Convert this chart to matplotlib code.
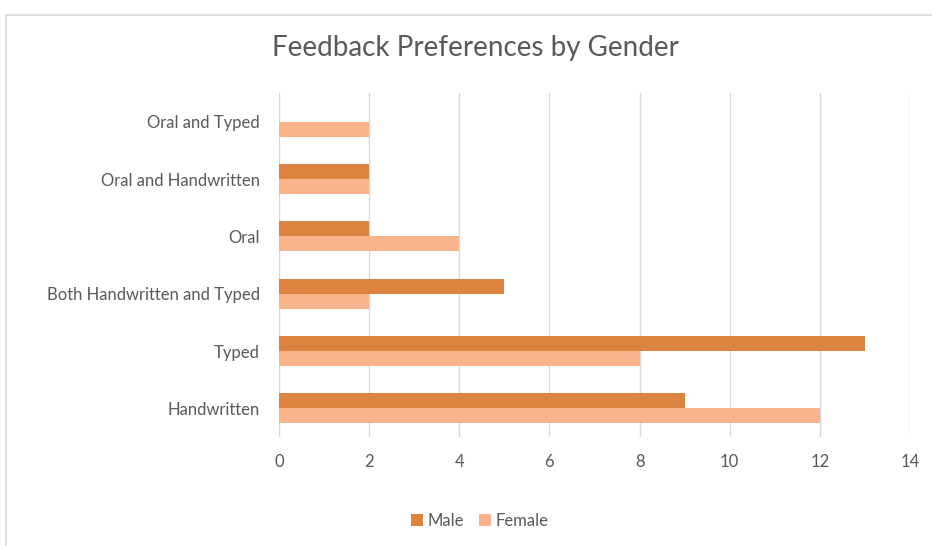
import numpy as np
import matplotlib.pyplot as plt
from matplotlib.lines import Line2D

categories = ["Handwritten", "Typed", "Both Handwritten and Typed", "Oral",
              "Oral and Handwritten", "Oral and Typed"]
male = [9, 13, 5, 2, 2, 0]
female = [12, 8, 2, 4, 2, 2]
x_ticks = [0, 2, 4, 6, 8, 10, 12, 14]

plt.rcParams['font.family'] = ['Lato', 'DejaVu Sans']
text_color = "#595959"

fig = plt.figure(figsize=(9.32, 5.46), dpi=100)
ax = fig.add_axes([279 / 932, 1 - 437 / 546, 631 / 932, 344 / 546])

y = np.arange(len(categories))
h = 0.26
ax.barh(y + h / 2, male, height=h, color="#dc843f", label="Male")
ax.barh(y - h / 2, female, height=h, color="#f9b48e", label="Female")

ax.set_ylim(-0.5, len(categories) - 0.5)
ax.set_xlim(0, 14)
ax.set_xticks(x_ticks)
ax.set_yticks(y)
ax.set_yticklabels(categories)
ax.tick_params(axis="both", length=0, labelsize=12, colors=text_color)
ax.tick_params(axis="x", pad=12)
ax.tick_params(axis="y", pad=14)
ax.grid(axis="x", color="#d9d9d9", linewidth=1)
ax.set_axisbelow(True)
for s in ax.spines.values():
    s.set_visible(False)

fig.text(475 / 932, 1 - 48 / 546, "Feedback Preferences by Gender",
         ha="center", va="center", fontsize=20, color=text_color)

ax.legend(loc="center", bbox_to_anchor=(480 / 932, 1 - 521 / 546),
          bbox_transform=fig.transFigure, ncol=2, frameon=False,
          fontsize=12, labelcolor=text_color, handlelength=0.7,
          handleheight=0.7, handletextpad=0.3, columnspacing=0.9)

# chart border (top and left edges visible in the reference)
fig.add_artist(Line2D([6 / 932, 1], [1 - 14.5 / 546] * 2,
                      transform=fig.transFigure, color="#d9d9d9", lw=1.2))
fig.add_artist(Line2D([6 / 932] * 2, [0, 1 - 14.5 / 546],
                      transform=fig.transFigure, color="#d9d9d9", lw=1.2))

fig.savefig("out.png", dpi=100)
